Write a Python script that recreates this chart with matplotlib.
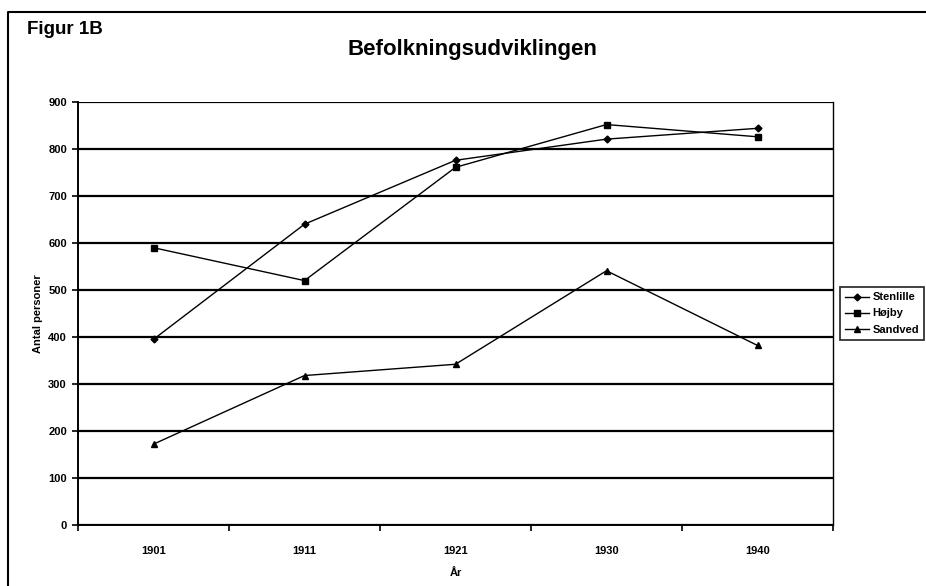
import matplotlib.pyplot as plt
from matplotlib.lines import Line2D

# data
years = ["1901", "1911", "1921", "1930", "1940"]
stenlille = [395, 640, 776, 821, 844]
hojby = [590, 520, 761, 852, 826]
sandved = [172, 318, 342, 541, 382]

plt.rcParams['font.family'] = ['Liberation Sans', 'DejaVu Sans']

fig = plt.figure(figsize=(9.26, 5.86), dpi=100)
ax = fig.add_axes([78 / 926, 1 - 525 / 586, (833 - 78) / 926, (525 - 102) / 586])

x = list(range(len(years)))
ax.plot(x, stenlille, color="black", lw=1, marker="D", markersize=3.5, label="Stenlille")
ax.plot(x, hojby, color="black", lw=1, marker="s", markersize=5, label="Højby")
ax.plot(x, sandved, color="black", lw=1, marker="^", markersize=5, label="Sandved")

ax.set_xlim(-0.5, len(years) - 0.5)
ax.set_ylim(0, 900)
ax.set_yticks(range(0, 901, 100))
ax.yaxis.grid(True, color="black", lw=1.6)
ax.set_axisbelow(True)

# category ticks sit between the years, labels at the centres
ax.set_xticks([i - 0.5 for i in range(len(years) + 1)])
ax.set_xticklabels([])
ax.set_xticks(x, minor=True)
ax.set_xticklabels(years, minor=True)
ax.tick_params(axis="x", which="minor", length=0, pad=15)
ax.tick_params(axis="x", which="major", length=4, width=1.2, direction="out")
ax.tick_params(axis="y", length=4, width=1.2, direction="out", pad=4)
for lbl in ax.get_xticklabels(minor=True) + ax.get_yticklabels():
    lbl.set_fontsize(8)
    lbl.set_fontweight("bold")

ax.spines["top"].set_visible(False)
for s in ["left", "bottom"]:
    ax.spines[s].set_linewidth(1.4)
ax.spines["right"].set_linewidth(1.0)

ax.set_xlabel("År", fontsize=8, fontweight="bold", labelpad=9)
ax.set_ylabel("Antal personer", fontsize=8, fontweight="bold", labelpad=4)

leg = ax.legend(loc="center left", bbox_to_anchor=(1.009, 0.5), fontsize=8,
                frameon=True, fancybox=False, edgecolor="black",
                handlelength=2.2, handletextpad=0.3, borderpad=0.45,
                labelspacing=0.55, borderaxespad=0)
leg.get_frame().set_linewidth(1.3)
for t in leg.get_texts():
    t.set_fontweight("bold")

fig.text(472 / 926, 1 - 50 / 586, "Befolkningsudviklingen", ha="center", va="center",
         fontsize=16, fontweight="bold")
fig.text(27 / 926, 1 - 30 / 586, "Figur 1B", ha="left", va="center",
         fontsize=13.5, fontweight="bold")

# outer frame: only the left and top edges are inside the picture
fig.lines.append(Line2D([8 / 926, 8 / 926, 1], [0, 1 - 12 / 586, 1 - 12 / 586],
                        transform=fig.transFigure, color="black", lw=1.5))

fig.savefig("out.png", dpi=100)
